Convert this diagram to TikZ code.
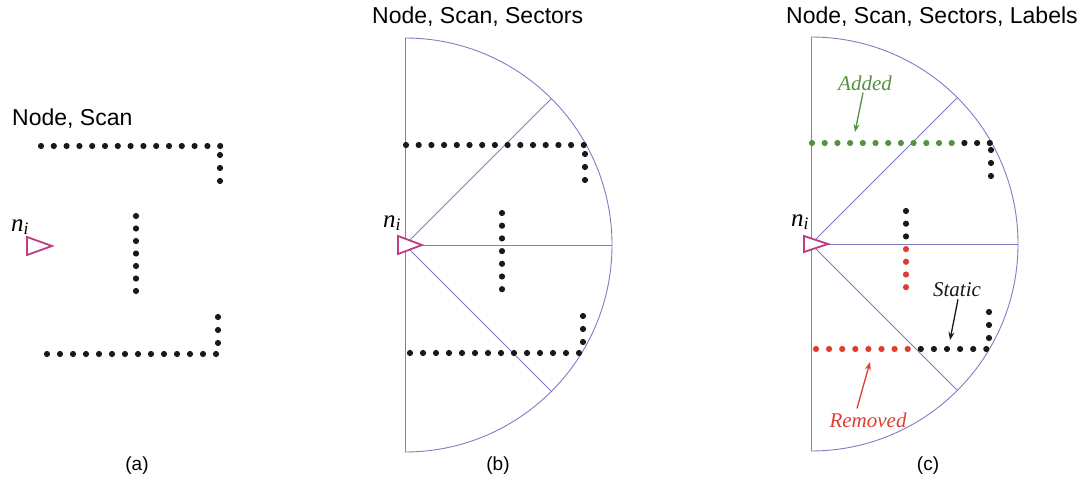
\documentclass[tikz,border=0pt]{standalone}
\usepackage{fontspec}
\setmainfont{Liberation Serif}
\setsansfont{Liberation Sans}
\usetikzlibrary{arrows.meta,positioning}

\definecolor{sectorblue}{RGB}{125,125,195}
\definecolor{nodepink}{RGB}{190,60,130}
\definecolor{addgreen}{RGB}{85,145,65}
\definecolor{remred}{RGB}{222,62,50}
\definecolor{scanblack}{RGB}{25,25,25}

\begin{document}
\begin{tikzpicture}[x=1pt, y=-1pt,
  title/.style={font=\sffamily\fontsize{23}{26}\selectfont, anchor=base west, inner sep=0pt},
  caption/.style={font=\sffamily\fontsize{19}{22}\selectfont, inner sep=0pt},
  nlabel/.style={font=\itshape\fontsize{25}{27}\selectfont, inner sep=0pt},
  tag/.style={font=\itshape\fontsize{21}{23}\selectfont, inner sep=1pt},
  sector/.style={draw=sectorblue, line width=0.9pt},
  nodetri/.style={draw=nodepink, fill=white, line width=1.8pt, line join=miter},
  arrow/.style={-{Stealth[length=8pt, width=6pt]}, line width=1.3pt},
]
\useasboundingbox (0,0) rectangle (1083,487);

% (a) node and scan
\begin{scope}[shift={(34,246)}]
  \node[title] (titleA) at (-22,-121) {Node, Scan};
  \foreach \i in {0,...,14} \fill[scanblack] (7+\i*12.8,-100) circle (3.1);
  \foreach \y in {-91,-78,-65} \fill[scanblack] (186,\y) circle (3.1);
  \foreach \i in {0,...,6} \fill[scanblack] (102,-30+\i*12.5) circle (3.1);
  \foreach \y in {71,84,97} \fill[scanblack] (184,\y) circle (3.1);
  \foreach \i in {0,...,13} \fill[scanblack] (13+\i*13,108) circle (3.1);
  \draw[nodetri] (-7,-9) -- (18,0) -- (-7,9) -- cycle;
  \node[nlabel] (niA) at (-14,-19) {n\textsubscript{i}};
\end{scope}

% (b) sectors added
\begin{scope}[shift={(405,245)}]
  \node[title] (titleB) at (-33,-221) {Node, Scan, Sectors};
  \draw[sector] (0,-207) -- (0,207);
  \draw[sector] (0,-207) arc[start angle=-90, end angle=90, radius=207];
  \draw[sector] (0,0) -- (207,0);
  \draw[sector] (0,0) -- (146.4,-146.4);
  \draw[sector] (0,0) -- (146.4,146.4);
  \foreach \i in {0,...,14} \fill[scanblack] (1+\i*12.7,-100) circle (3.1);
  \foreach \y in {-91,-78,-65} \fill[scanblack] (180,\y) circle (3.1);
  \foreach \i in {0,...,6} \fill[scanblack] (97,-32+\i*12.7) circle (3.1);
  \foreach \y in {71,84,97} \fill[scanblack] (178,\y) circle (3.1);
  \foreach \i in {0,...,13} \fill[scanblack] (5+\i*13,108) circle (3.1);
  \draw[nodetri] (-7,-9) -- (17,0) -- (-7,9) -- cycle;
  \node[nlabel] (niB) at (-13,-22) {n\textsubscript{i}};
\end{scope}

% (c) sectors and labels
\begin{scope}[shift={(811,244)}]
  \node[title] (titleC) at (-25,-220) {Node, Scan, Sectors, Labels};
  \draw[sector] (0,-207) -- (0,207);
  \draw[sector] (0,-207) arc[start angle=-90, end angle=90, radius=207];
  \draw[sector] (0,0) -- (207,0);
  \draw[sector] (0,0) -- (146.4,-146.4);
  \draw[sector] (0,0) -- (146.4,146.4);
  \foreach \i in {0,...,11} \fill[addgreen] (1+\i*12.7,-101) circle (3.1);
  \foreach \i in {12,13,14} \fill[scanblack] (1+\i*12.7,-101) circle (3.1);
  \foreach \y in {-94,-81,-68} \fill[scanblack] (180,\y) circle (3.1);
  \foreach \i in {0,...,2} \fill[scanblack] (95,-33+\i*12.7) circle (3.1);
  \foreach \i in {3,...,6} \fill[remred] (95,-33+\i*12.7) circle (3.1);
  \foreach \y in {68,81,94} \fill[scanblack] (178,\y) circle (3.1);
  \foreach \i in {0,...,7} \fill[remred] (5+\i*13.1,105) circle (3.1);
  \foreach \i in {8,...,13} \fill[scanblack] (5+\i*13.1,105) circle (3.1);
  \draw[nodetri] (-7,-8) -- (17,0) -- (-7,8) -- cycle;
  \node[nlabel] (niC) at (-11,-22) {n\textsubscript{i}};

  \node[tag, text=addgreen] (added) at (54,-161) {Added};
  \coordinate (addtip) at (44,-112);
  \draw[arrow, addgreen] (added.south) ++(-2,1) -- (addtip);
  \node[tag, text=scanblack] (static) at (146,46) {Static};
  \coordinate (statictip) at (139,96);
  \draw[arrow, scanblack] (static.south) ++(1,1) -- (statictip);
  \node[tag, text=remred] (removed) at (57,176) {Removed};
  \coordinate (remtip) at (59,118);
  \draw[arrow, remred] (removed.north) ++(-11,-3) -- (remtip);
\end{scope}

\node[caption] (capA) at (137,466) {(a)};
\node[caption] (capB) at (498,466) {(b)};
\node[caption] (capC) at (928,466) {(c)};

\end{tikzpicture}
\end{document}
